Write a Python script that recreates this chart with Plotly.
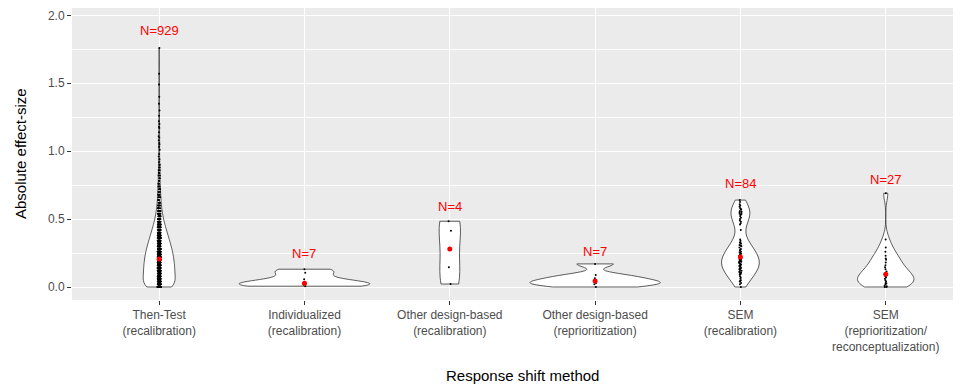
import numpy as np
import plotly.graph_objects as go

# ---------------- data ----------------
categories = [
    "Then-Test<br>(recalibration)",
    "Individualized<br>(recalibration)",
    "Other design-based<br>(recalibration)",
    "Other design-based<br>(reprioritization)",
    "SEM<br>(recalibration)",
    "SEM<br>(reprioritization/<br>reconceptualization)",
]

# Then-Test: effect sizes grouped by value (value, count) + sparse upper tail
then_test_values = [0.00, 0.02, 0.04, 0.06, 0.08, 0.10, 0.12, 0.14, 0.16, 0.18,
                    0.20, 0.22, 0.24, 0.26, 0.28, 0.30, 0.32, 0.34, 0.36, 0.38,
                    0.40, 0.42, 0.44, 0.46, 0.48, 0.50, 0.52, 0.54, 0.56, 0.58,
                    0.60, 0.62, 0.64, 0.66, 0.68, 0.70, 0.72, 0.74, 0.76, 0.78,
                    0.80, 0.82, 0.84, 0.86, 0.88, 0.90, 0.92, 0.94, 0.96, 0.98]
then_test_counts = [89, 36, 38, 39, 39, 39, 39, 39, 39, 38,
                    36, 36, 35, 34, 32, 30, 28, 26, 24, 22,
                    20, 18, 16, 14, 12, 10, 9, 8, 7, 6,
                    5, 5, 4, 4, 4, 3, 3, 3, 3, 2,
                    2, 2, 2, 2, 2, 2, 1, 1, 1, 1]
then_test_tail = [1.01, 1.03, 1.05, 1.06, 1.08, 1.10, 1.11, 1.14, 1.17, 1.18,
                  1.20, 1.22, 1.26, 1.30, 1.35, 1.40, 1.49, 1.57, 1.76]

individualized = [0.006, 0.016, 0.023, 0.027, 0.057, 0.105, 0.131]
other_recal = [0.022, 0.145, 0.415, 0.484]
other_reprio = [0.0, 0.02, 0.03, 0.044, 0.065, 0.088, 0.17]
sem_recal = [0.00, 0.02, 0.03, 0.04, 0.045,
             0.05, 0.06, 0.07, 0.08, 0.09, 0.095,
             0.10, 0.105, 0.11, 0.115, 0.12, 0.125, 0.13, 0.135, 0.14, 0.14, 0.145,
             0.15, 0.155, 0.16, 0.16, 0.165, 0.17, 0.175, 0.18, 0.185, 0.185, 0.19, 0.19, 0.195,
             0.20, 0.205, 0.21, 0.215, 0.215, 0.22, 0.22, 0.225, 0.23, 0.24, 0.245,
             0.25, 0.255, 0.26, 0.27, 0.275, 0.28, 0.29,
             0.30, 0.305, 0.31, 0.32, 0.325, 0.33, 0.34, 0.35,
             0.42, 0.46, 0.47, 0.48, 0.49,
             0.50, 0.51, 0.52, 0.53, 0.535, 0.54, 0.545,
             0.55, 0.555, 0.56, 0.57, 0.575, 0.58, 0.59,
             0.60, 0.61, 0.625, 0.64]
sem_reprio = [0.0, 0.0, 0.005, 0.01, 0.02, 0.025, 0.03, 0.04, 0.05, 0.06,
              0.07, 0.08, 0.085, 0.093, 0.10, 0.115, 0.13, 0.145, 0.16, 0.18,
              0.20, 0.21, 0.23, 0.26, 0.29, 0.35, 0.69]

# red summary points
summary_y = [0.206, 0.027, 0.28, 0.044, 0.22, 0.093]
# vertical positions of the "N=" labels
label_y = [1.89, 0.245, 0.59, 0.26, 0.76, 0.795]

y_ticks = [0.0, 0.5, 1.0, 1.5, 2.0]
y_ticktext = ["0.0", "0.5", "1.0", "1.5", "2.0"]

# ---------------- build ----------------
then_test = list(np.repeat(then_test_values, then_test_counts)) + then_test_tail
groups = [then_test, individualized, other_recal, other_reprio, sem_recal, sem_reprio]


def nrd0(v):
    v = np.asarray(v, dtype=float)
    sd = v.std(ddof=1)
    q75, q25 = np.percentile(v, [75, 25])
    lo = min(sd, (q75 - q25) / 1.34) if q75 > q25 else sd
    return 0.9 * lo * len(v) ** -0.2


def kde_peak(v, bw):
    v = np.asarray(v, dtype=float)
    grid = np.linspace(v.min(), v.max(), 1501)
    z = (grid[:, None] - v[None, :]) / bw
    dens = np.exp(-0.5 * z * z).sum(axis=1) / (len(v) * bw * np.sqrt(2 * np.pi))
    return dens.max()


bws = [nrd0(g) for g in groups]
peaks = [kde_peak(g, b) for g, b in zip(groups, bws)]
gmax = max(peaks)
widths = [0.9 * p / gmax for p in peaks]   # ggplot scale="area"
JIT = 0.010  # jitter half-width in category units

FONT = "Liberation Sans, Arial, sans-serif"
fig = go.Figure()
for i, vals in enumerate(groups):
    fig.add_trace(go.Violin(
        y=vals, x0=i, name=str(i),
        bandwidth=bws[i], spanmode="hard",
        width=widths[i], scalegroup=str(i), scalemode="width",
        fillcolor="white", line=dict(color="#333333", width=0.8),
        points="all", pointpos=0, jitter=min(1.0, JIT / (widths[i] / 2)),
        marker=dict(color="black", size=2, line=dict(width=0)),
        box_visible=False, meanline_visible=False,
        hoverinfo="skip", showlegend=False,
    ))

fig.add_trace(go.Scatter(
    x=list(range(len(groups))), y=summary_y, mode="markers",
    marker=dict(color="red", size=5), showlegend=False, hoverinfo="skip",
))

annotations = []
for i, g in enumerate(groups):
    annotations.append(dict(
        x=i, y=label_y[i], xref="x", yref="y", text=f"N={len(g)}",
        showarrow=False, xanchor="center", yanchor="middle",
        font=dict(family=FONT, size=13, color="red"),
    ))
annotations.append(dict(
    x=0, xref="paper", xshift=-52, xanchor="center",
    y=0.5, yref="paper", yanchor="middle",
    text="Absolute effect-size", textangle=-90, showarrow=False,
    font=dict(family=FONT, size=15, color="black"),
))
annotations.append(dict(
    x=2.5, xref="x", xanchor="center", y=0, yref="paper", yshift=-75, yanchor="middle",
    text="Response shift method", showarrow=False,
    font=dict(family=FONT, size=15, color="black"),
))

# page body has an 8px margin: figure is 953x379 so the panel lands at the reference place
fig.update_layout(
    width=953, height=379,
    margin=dict(l=64, r=0, t=0, b=87),
    paper_bgcolor="white", plot_bgcolor="#EBEBEB",
    violinmode="overlay", showlegend=False,
    font=dict(family=FONT),
    annotations=annotations,
)
fig.update_xaxes(
    range=[-0.6, 5.518], tickmode="array", tickvals=list(range(6)), ticktext=categories,
    showgrid=True, gridcolor="white", gridwidth=1.1, zeroline=False, showline=False,
    ticks="outside", ticklen=4, tickcolor="#333333", tickwidth=1,
    tickfont=dict(family=FONT, size=12, color="#4d4d4d"), tickangle=0,
)
fig.update_yaxes(
    range=[-0.0957, 2.054], tickmode="array", tickvals=y_ticks, ticktext=y_ticktext,
    showgrid=True, gridcolor="white", gridwidth=1.1, zeroline=False, showline=False,
    ticks="outside", ticklen=4, tickcolor="#333333", tickwidth=1,
    tickfont=dict(family=FONT, size=12, color="#4d4d4d"),
    minor=dict(tickmode="linear", tick0=0, dtick=0.25, showgrid=True,
               gridcolor="white", gridwidth=0.55, ticks=""),
)

fig.write_html("out.html")
